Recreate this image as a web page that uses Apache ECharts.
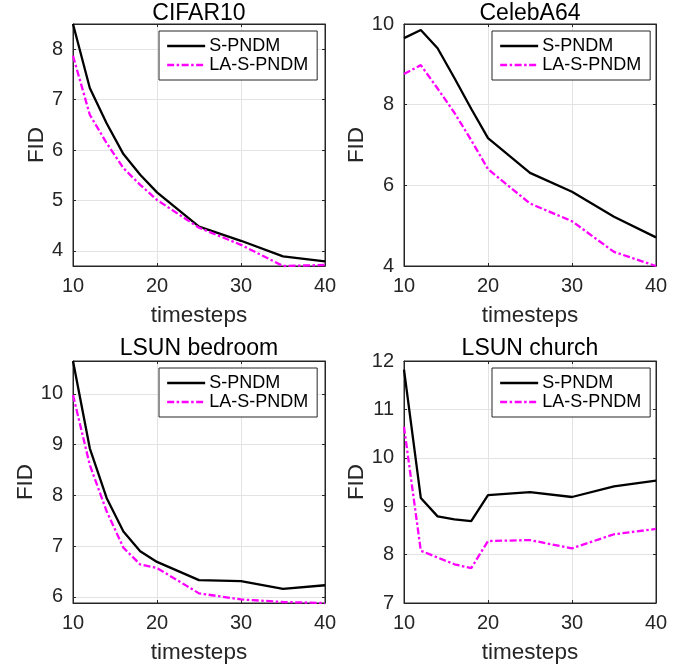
<!DOCTYPE html>
<html>
<head>
<meta charset="utf-8">
<script src="https://cdn.jsdelivr.net/npm/echarts@6/dist/echarts.min.js"></script>
<style>
html,body{margin:0;padding:0;background:#fff;}
#c{width:683px;height:665px;}
</style>
</head>
<body>
<div id="c"></div>
<script>
// ---- data ----
var steps = [10, 12, 14, 16, 18, 20, 25, 30, 35, 40];
var seriesNames = ['S-PNDM', 'LA-S-PNDM'];
var titles = ['CIFAR10', 'CelebA64', 'LSUN bedroom', 'LSUN church'];

var cifarS  = [8.50, 7.23, 6.53, 5.92, 5.51, 5.16, 4.48, 4.20, 3.89, 3.79];
var cifarLA = [7.87, 6.70, 6.14, 5.64, 5.31, 5.01, 4.46, 4.12, 3.70, 3.72];
var celebS  = [9.65, 9.85, 9.40, 8.66, 7.90, 7.17, 6.31, 5.84, 5.22, 4.71];
var celebLA = [8.76, 8.98, 8.40, 7.80, 7.12, 6.40, 5.55, 5.11, 4.35, 4.00];
var bedS    = [10.65, 8.93, 7.95, 7.29, 6.90, 6.69, 6.33, 6.31, 6.16, 6.23];
var bedLA   = [9.98, 8.60, 7.69, 6.97, 6.64, 6.57, 6.07, 5.95, 5.90, 5.88];
var churchS = [11.82, 9.17, 8.79, 8.73, 8.69, 9.23, 9.29, 9.19, 9.41, 9.53];
var churchLA= [10.64, 8.08, 7.94, 7.80, 7.72, 8.28, 8.30, 8.13, 8.42, 8.53];

var xTicks = [10, 20, 30, 40];
var yLimits = [[3.7, 8.5], [4, 10], [5.88, 10.65], [7, 12]];
var yTicks = [[4, 5, 6, 7, 8], [4, 6, 8, 10], [6, 7, 8, 9, 10], [7, 8, 9, 10, 11, 12]];
var panelData = [[cifarS, cifarLA], [celebS, celebLA], [bedS, bedLA], [churchS, churchLA]];

// ---- layout ----
var FONT = '"Liberation Sans", Arial, Helvetica, sans-serif';
var TXT = '#262626';
var grids = [
  {left: 73, top: 24, width: 252, height: 242},
  {left: 404, top: 24, width: 252, height: 242},
  {left: 73, top: 361, width: 252, height: 243},
  {left: 404, top: 361, width: 252, height: 243}
];
var legendPos = [
  {left: 159, top: 31},
  {left: 492, top: 31},
  {left: 159, top: 368},
  {left: 492, top: 368}
];
var titleTop = [2, 2, 337, 337];
var fidGap = [25, 35, 35, 35];
var DASHDOT = [7, 2.5, 2.5, 2.5];

function pairs(xs, ys) { return xs.map(function (x, i) { return [x, ys[i]]; }); }

var option = {
  animation: false,
  backgroundColor: '#ffffff',
  title: [], grid: [], xAxis: [], yAxis: [], series: [], legend: []
};

grids.forEach(function (g, p) {
  option.grid.push({left: g.left, top: g.top, width: g.width, height: g.height,
    show: true, borderColor: TXT, borderWidth: 1, backgroundColor: 'transparent', containLabel: false});
  option.title.push({text: titles[p], left: g.left + g.width / 2, top: titleTop[p], textAlign: 'center', padding: 0,
    textStyle: {fontFamily: FONT, fontSize: 23, fontWeight: 'normal', color: '#000'}});

  var tickStyle = {show: true, inside: true, length: 3, lineStyle: {color: TXT, width: 1}};
  option.xAxis.push({type: 'value', gridIndex: p, min: 10, max: 40, interval: 10, position: 'bottom',
    name: 'timesteps', nameLocation: 'middle', nameGap: 38,
    nameTextStyle: {fontFamily: FONT, fontSize: 22.5, color: TXT},
    axisLine: {show: true, onZero: false, lineStyle: {color: TXT, width: 1}},
    axisTick: tickStyle,
    axisLabel: {fontFamily: FONT, fontSize: 20, color: TXT, margin: 10},
    splitLine: {show: true, lineStyle: {color: '#e3e3e3', width: 1}}
  });
  option.xAxis.push({type: 'value', gridIndex: p, min: 10, max: 40, interval: 10, position: 'top',
    axisLine: {show: true, onZero: false, lineStyle: {color: TXT, width: 1}},
    axisTick: tickStyle, axisLabel: {show: false}, splitLine: {show: false}
  });
  var yl = yLimits[p];
  option.yAxis.push({type: 'value', gridIndex: p, min: yl[0], max: yl[1], position: 'left',
    name: 'FID', nameLocation: 'middle', nameGap: fidGap[p], nameRotate: 90,
    nameTextStyle: {fontFamily: FONT, fontSize: 22.5, color: TXT},
    axisLine: {show: true, onZero: false, lineStyle: {color: TXT, width: 1}},
    axisTick: {show: true, inside: true, length: 3, lineStyle: {color: TXT, width: 1}, customValues: yTicks[p]},
    axisLabel: {fontFamily: FONT, fontSize: 20, color: TXT, margin: 10, customValues: yTicks[p]},
    splitLine: {show: true, lineStyle: {color: '#e3e3e3', width: 1}}
  });
  option.yAxis.push({type: 'value', gridIndex: p, min: yl[0], max: yl[1], position: 'right',
    axisLine: {show: true, onZero: false, lineStyle: {color: TXT, width: 1}},
    axisTick: {show: true, inside: true, length: 3, lineStyle: {color: TXT, width: 1}, customValues: yTicks[p]},
    axisLabel: {show: false}, splitLine: {show: false}
  });

  var d = panelData[p];
  option.series.push({name: seriesNames[0], type: 'line', xAxisIndex: 2 * p, yAxisIndex: 2 * p,
    data: pairs(steps, d[0]), symbol: 'none', showSymbol: false, smooth: false, clip: false,
    lineStyle: {color: '#000000', width: 2.3, type: 'solid'}, itemStyle: {color: '#000000'}, z: 3});
  option.series.push({name: seriesNames[1], type: 'line', xAxisIndex: 2 * p, yAxisIndex: 2 * p,
    data: pairs(steps, d[1]), symbol: 'none', showSymbol: false, smooth: false, clip: false,
    lineStyle: {color: '#ff00ff', width: 2.3, type: DASHDOT}, itemStyle: {color: '#ff00ff'}, z: 4});

  option.legend.push({
    orient: 'vertical', left: legendPos[p].left, top: legendPos[p].top,
    data: seriesNames.slice(),
    seriesIndex: [2 * p, 2 * p + 1],
    itemWidth: 38, itemHeight: 20, itemGap: 1,
    padding: [6, 9, 6, 7],
    borderColor: TXT, borderWidth: 1, backgroundColor: '#ffffff',
    selectedMode: false,
    itemStyle: {opacity: 0},
    lineStyle: {width: 2.3},
    textStyle: {fontFamily: FONT, fontSize: 18, color: '#000', padding: [0, 0, 0, -1]}
  });
});

var chart = echarts.init(document.getElementById('c'), null, {renderer: 'canvas'});
chart.setOption(option);
</script>
</body>
</html>
